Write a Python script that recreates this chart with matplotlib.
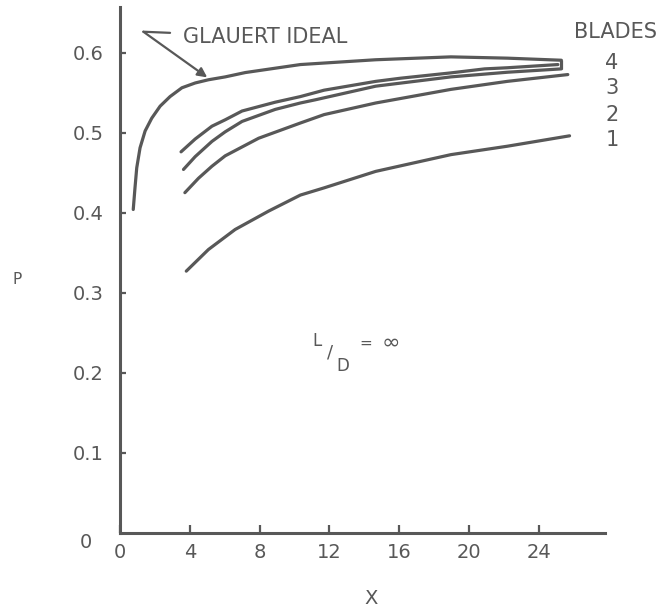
import matplotlib
matplotlib.use('Agg')
from matplotlib import pyplot as plt

INK = '#585858'

# values, power coefficient P against tip speed ratio X
glauert_x = [0.76, 0.86, 0.96, 1.15, 1.44, 1.82, 2.3, 2.87, 3.55, 4.31, 5.07, 6.03, 7.18,
             10.34, 14.66, 18.97, 22.2, 25.3]
glauert_p = [0.404, 0.431, 0.456, 0.481, 0.502, 0.518, 0.533, 0.545, 0.556, 0.562, 0.566,
             0.5696, 0.575, 0.585, 0.591, 0.5946, 0.593, 0.5904]

blade4_x = [3.5, 4.31, 5.27, 6.03, 7.0, 8.9, 10.34, 11.7, 14.66, 16.1, 18.97, 20.9, 22.2, 25.1]
blade4_p = [0.476, 0.492, 0.508, 0.516, 0.527, 0.538, 0.545, 0.553, 0.564, 0.568, 0.5746,
            0.5796, 0.581, 0.585]

blade3_x = [3.64, 4.31, 5.27, 6.03, 7.0, 8.9, 10.34, 11.2, 14.66, 18.97, 22.2, 25.3]
blade3_p = [0.454, 0.47, 0.489, 0.501, 0.514, 0.529, 0.537, 0.541, 0.558, 0.5696, 0.5754, 0.5796]

blade2_x = [3.72, 4.5, 5.27, 6.03, 7.95, 10.34, 11.7, 14.66, 18.97, 22.2, 25.67]
blade2_p = [0.425, 0.443, 0.458, 0.471, 0.493, 0.512, 0.5225, 0.537, 0.554, 0.564, 0.5725]

blade1_x = [3.8, 5.07, 6.6, 8.52, 10.34, 11.7, 14.66, 18.97, 22.2, 25.77]
blade1_p = [0.327, 0.354, 0.379, 0.402, 0.422, 0.431, 0.4516, 0.4725, 0.483, 0.496]

blade_labels = ['4', '3', '2', '1']
blade_label_p = [0.587, 0.556, 0.5225, 0.491]

x_ticks = [0, 4, 8, 12, 16, 20, 24]
y_ticks = [0.1, 0.2, 0.3, 0.4, 0.5, 0.6]


def main():
    fig = plt.figure(figsize=(6.64, 6.11), dpi=100)
    ax = fig.add_axes([0.1807, 0.1277, 0.7304, 0.861])

    for xs, ps in [(glauert_x, glauert_p), (blade4_x, blade4_p), (blade3_x, blade3_p),
                   (blade2_x, blade2_p), (blade1_x, blade1_p)]:
        ax.plot(xs, ps, color=INK, lw=2.3, solid_capstyle='round', solid_joinstyle='round')
    # small closing stroke where the top curves meet at the right end
    ax.vlines(glauert_x[-1], blade3_p[-1], glauert_p[-1], color=INK, lw=2.3)

    ax.set_xlim(0, 27.8)
    ax.set_ylim(0, 0.657)
    for side in ['top', 'right']:
        ax.spines[side].set_visible(False)
    for side in ['left', 'bottom']:
        ax.spines[side].set_color(INK)
        ax.spines[side].set_linewidth(2.2)

    ax.set_xticks(x_ticks)
    ax.set_xticklabels([str(v) for v in x_ticks])
    ax.set_yticks(y_ticks)
    ax.set_yticklabels(['{:.1f}'.format(v) for v in y_ticks])
    ax.tick_params(axis='x', direction='in', length=6, width=1.6, color=INK,
                   labelsize=14, labelcolor=INK, pad=7)
    ax.tick_params(axis='y', direction='in', length=4, width=1.6, color=INK,
                   labelsize=14, labelcolor=INK, pad=11.5)
    ax.text(-1.95, -0.0125, '0', fontsize=14, color=INK, ha='center', va='center')

    # Glauert label with its bent leader
    ax.annotate('', xy=(5.0, 0.569), xytext=(1.34, 0.626),
                arrowprops=dict(arrowstyle='-|>', color=INK, lw=1.6, mutation_scale=14,
                                shrinkA=0, shrinkB=0))
    ax.annotate('', xy=(2.87, 0.6246), xytext=(1.34, 0.626),
                arrowprops=dict(arrowstyle='-', color=INK, lw=1.6, shrinkA=0, shrinkB=0))
    ax.text(3.6, 0.619, 'GLAUERT IDEAL', fontsize=15, color=INK, ha='left', va='center')

    ax.text(26.0, 0.626, 'BLADES', fontsize=15, color=INK, ha='left', va='center')
    for lab, p in zip(blade_labels, blade_label_p):
        ax.text(28.2, p, lab, fontsize=15, color=INK, ha='center', va='center')

    ax.text(11.3, 0.24, 'L', fontsize=12, color=INK, ha='center', va='center')
    ax.text(12.07, 0.225, '/', fontsize=13, color=INK, ha='center', va='center')
    ax.text(12.76, 0.209, 'D', fontsize=12, color=INK, ha='center', va='center')
    ax.text(14.08, 0.2375, '=', fontsize=11, color=INK, ha='center', va='center')
    ax.text(15.5, 0.2375, '\u221e', fontsize=16, color=INK, ha='center', va='center')

    fig.text(371 / 664, 1 - 598 / 611, 'X', fontsize=14, color=INK, ha='center', va='center')
    fig.text(17 / 664, 1 - 280 / 611, 'P', fontsize=11, color=INK, ha='center', va='center')

    fig.savefig('out.png', dpi=100, facecolor='white')


if __name__ == '__main__':
    main()
